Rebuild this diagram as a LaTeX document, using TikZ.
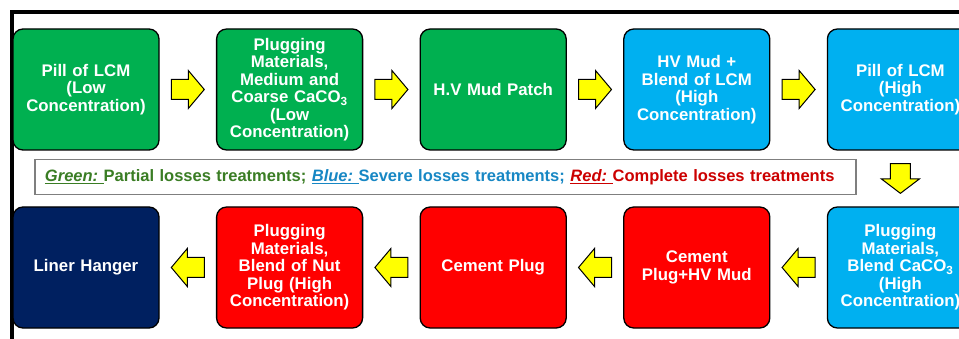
\documentclass[tikz,border=0pt]{standalone}
\usepackage{fontspec}
\setmainfont{Liberation Sans}
\usetikzlibrary{calc}
\definecolor{bgreen}{HTML}{00B050}
\definecolor{bblue}{HTML}{00B0F0}
\definecolor{bred}{HTML}{FF0000}
\definecolor{bnavy}{HTML}{002060}
\definecolor{ayellow}{HTML}{FFFF00}
\definecolor{lgreen}{HTML}{3A7D24}
\definecolor{lblue}{HTML}{1787C4}
\definecolor{lred}{HTML}{CC0000}
\definecolor{lgray}{HTML}{7F7F7F}
\begin{document}
\begin{tikzpicture}[x=1pt,y=-1pt,
  stepbox/.style={draw=black, line width=1.3pt, rounded corners=10pt,
    minimum width=146pt, minimum height=121pt, text width=140pt, inner sep=3pt,
    align=center, text=white, font=\bfseries\fontsize{16.8}{17.5}\selectfont},
  gbox/.style={stepbox, fill=bgreen},
  bbox/.style={stepbox, fill=bblue},
  rbox/.style={stepbox, fill=bred},
  nbox/.style={stepbox, fill=bnavy},
  legendbox/.style={draw=lgray, line width=1.4pt, minimum width=821pt, minimum height=30pt,
    text width=801pt, inner sep=10pt, align=left, font=\bfseries\fontsize{16.5}{18}\selectfont},
  blockarr/.pic={\draw[fill=ayellow, line width=1pt, line join=miter]
    (-16.5,-10) -- (0.5,-10) -- (0.5,-19) -- (16.5,0) -- (0.5,19) -- (0.5,10) -- (-16.5,10) -- cycle;}
]
\useasboundingbox (0,0) rectangle (959,339);
\clip (0,0) rectangle (959,339);
\fill[white] (0,0) rectangle (959,339);
% outer frame
\draw[line width=3.5pt] (12,400) -- (12,12) -- (1000,12);
% top row
\node[gbox] (t1) at (86,89.5) {Pill of LCM\\(Low\\Concentration)};
\node[gbox] (t2) at (289.6,89.5) {Plugging\\Materials,\\Medium and\\Coarse CaCO\textsubscript{3}\\(Low\\Concentration)};
\node[gbox] (t3) at (493.2,89.5) {H.V Mud Patch};
\node[bbox] (t4) at (696.8,89.5) {HV Mud +\\Blend of LCM\\(High\\Concentration)};
\node[bbox] (t5) at (900.4,89.5) {Pill of LCM\\(High\\Concentration)};
% bottom row
\node[nbox] (b1) at (86,267.5) {Liner Hanger};
\node[rbox] (b2) at (289.6,267.5) {Plugging\\Materials,\\Blend of Nut\\Plug (High\\Concentration)};
\node[rbox] (b3) at (493.2,267.5) {Cement Plug};
\node[rbox] (b4) at (696.8,267.5) {Cement\\Plug+HV Mud};
\node[bbox] (b5) at (900.4,267.5) {Plugging\\Materials,\\Blend CaCO\textsubscript{3}\\(High\\Concentration)};
% legend
\node[legendbox] (leg) at (445.5,177) {\textcolor{lgreen}{\underline{\textit{Green:}\ }Partial losses treatments;} \textcolor{lblue}{\underline{\textit{Blue:}\ }Severe losses treatments;} \textcolor{lred}{\underline{\textit{Red:}\ }Complete losses treatments}};
% arrows
\pic at ($(t1.east)!0.5!(t2.west)$) {blockarr};
\pic at ($(t2.east)!0.5!(t3.west)$) {blockarr};
\pic at ($(t3.east)!0.5!(t4.west)$) {blockarr};
\pic at ($(t4.east)!0.5!(t5.west)$) {blockarr};
\pic[rotate=-90, xscale=0.9] at ($(t5.south)!0.5!(b5.north)$) {blockarr};
\pic[rotate=180] at ($(b5.west)!0.5!(b4.east)$) {blockarr};
\pic[rotate=180] at ($(b4.west)!0.5!(b3.east)$) {blockarr};
\pic[rotate=180] at ($(b3.west)!0.5!(b2.east)$) {blockarr};
\pic[rotate=180] at ($(b2.west)!0.5!(b1.east)$) {blockarr};
\end{tikzpicture}
\end{document}
